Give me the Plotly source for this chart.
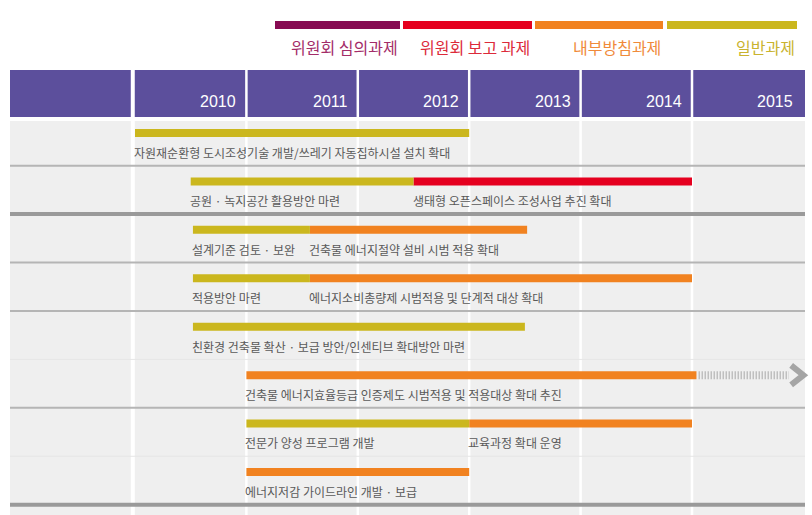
import plotly.graph_objects as go

W, H = 812, 515

years = [2010, 2011, 2012, 2013, 2014, 2015]
categories = ["위원회 심의과제", "위원회 보고 과제", "내부방침과제", "일반과제"]
cat_colors = ["#870A52", "#E5001F", "#F18220", "#CBB71E"]
cat_text_colors = ["#A32C68", "#DC2A3A", "#F08A3A", "#C9B32E"]

# task segments: row, start year, end year, category index, label
task_rows = [0, 1, 1, 2, 2, 3, 3, 4, 5, 6, 6, 7]
task_start = [2010.0, 2010.5, 2012.5, 2010.52, 2011.57, 2010.52, 2011.57, 2010.52, 2011.0, 2011.0, 2013.0, 2011.0]
task_end = [2013.0, 2012.5, 2015.0, 2011.57, 2013.52, 2011.57, 2015.0, 2013.5, 2015.04, 2013.0, 2015.0, 2013.0]
task_cat = [3, 3, 1, 3, 2, 3, 2, 3, 2, 3, 2, 2]
task_labels = [
    "자원재순환형 도시조성기술 개발/쓰레기 자동집하시설 설치 확대",
    "공원 · 녹지공간 활용방안 마련",
    "생태형 오픈스페이스 조성사업 추진 확대",
    "설계기준 검토 · 보완",
    "건축물 에너지절약 설비 시범 적용 확대",
    "적용방안 마련",
    "에너지소비총량제 시범적용 및 단계적 대상 확대",
    "친환경 건축물 확산 · 보급 방안/인센티브 확대방안 마련",
    "건축물 에너지효율등급 인증제도 시범적용 및 적용대상 확대 추진",
    "전문가 양성 프로그램 개발",
    "교육과정 확대 운영",
    "에너지저감 가이드라인 개발 · 보급",
]

# continuation arrow (row 5)
ext_row = 5
ext_start = 2015.04
ext_end = 2015.87
ext_tip = 2016.0

# separator lines after each row: "thin", "thick", "faint"
sep_types = ["thin", "thick", "thin", "thin", "faint", "thin", "faint", "thick"]

# ---- geometry (pixel mapping) ----
x0_px, year_px = 135.0, 111.4
row0_px, row_px = 133.0, 48.43
x_range = [2010 - x0_px / year_px, 2010 + (W - x0_px) / year_px]
y_range = [(H - row0_px) / row_px, -row0_px / row_px]


def px(xp):
    return xp / W


def py(yp):
    return 1 - yp / H


fig = go.Figure()

# bars by category
for ci, cname in enumerate(categories):
    idx = [i for i, c in enumerate(task_cat) if c == ci]
    if not idx:
        continue
    fig.add_trace(go.Bar(
        orientation="h",
        y=[task_rows[i] for i in idx],
        base=[task_start[i] for i in idx],
        x=[task_end[i] - task_start[i] for i in idx],
        width=0.165,
        marker=dict(color=cat_colors[ci], line=dict(width=0)),
        name=cname,
        hoverinfo="skip",
        showlegend=False,
    ))

# striped continuation
fig.add_trace(go.Scatter(
    x=[ext_start + 0.02, ext_end], y=[ext_row, ext_row], mode="lines",
    line=dict(color="#A9A9A9", width=8, dash="1px,2px"),
    hoverinfo="skip", showlegend=False,
))
# chevron
fig.add_trace(go.Scatter(
    x=[ext_end + 0.02, ext_tip, ext_end + 0.02],
    y=[ext_row - 0.2, ext_row, ext_row + 0.2],
    mode="lines", line=dict(color="#A5A5A5", width=6),
    hoverinfo="skip", showlegend=False,
))

shapes = []
# body background
shapes.append(dict(type="rect", xref="paper", yref="paper", layer="below",
                   x0=px(10), x1=px(805), y0=0, y1=py(121),
                   fillcolor="#EFEFEF", line=dict(width=0)))
# header band
shapes.append(dict(type="rect", xref="paper", yref="paper", layer="below",
                   x0=px(10), x1=px(805), y0=py(117), y1=py(70),
                   fillcolor="#5C4F9C", line=dict(width=0)))
# vertical white separators
shapes.append(dict(type="line", xref="x", yref="paper", layer="below",
                   x0=years[0] - 0.02, x1=years[0] - 0.02, y0=0, y1=py(70),
                   line=dict(color="white", width=4)))
for yv in years[1:]:
    shapes.append(dict(type="line", xref="x", yref="paper", layer="below",
                       x0=yv, x1=yv, y0=0, y1=py(70),
                       line=dict(color="white", width=2.5)))
# horizontal separators
for r, t in enumerate(sep_types):
    yv = r + 0.675
    if t == "thick":
        ln = dict(color="#9A9A9A", width=4)
    elif t == "thin":
        ln = dict(color="#B5B5B5", width=2)
    else:
        ln = dict(color="#E6E6E6", width=1)
    shapes.append(dict(type="line", xref="paper", yref="y", layer="below",
                       x0=px(10), x1=px(805), y0=yv, y1=yv, line=ln))

# legend bars (top)
leg_x = [(275, 400), (403, 532), (535, 663), (667, 797)]
for ci in range(len(categories)):
    a, b = leg_x[ci]
    shapes.append(dict(type="rect", xref="paper", yref="paper",
                       x0=px(a), x1=px(b), y0=py(29), y1=py(21),
                       fillcolor=cat_colors[ci], line=dict(width=0)))

annotations = []
for ci, cname in enumerate(categories):
    annotations.append(dict(
        text=cname, xref="paper", yref="paper", x=px(leg_x[ci][1]), y=py(47),
        xanchor="right", yanchor="middle", showarrow=False,
        font=dict(family="Noto Sans CJK KR", size=16, color=cat_text_colors[ci]),
    ))

# year labels
for yv in years:
    annotations.append(dict(
        text=str(yv), xref="x", yref="paper", x=yv + 1, y=py(101),
        xanchor="right", yanchor="middle", xshift=-8, showarrow=False,
        font=dict(family="Liberation Sans", size=16, color="white"),
    ))

# task labels
for i, lab in enumerate(task_labels):
    annotations.append(dict(
        text=lab, xref="x", yref="y", x=task_start[i], y=task_rows[i] + 0.4,
        xanchor="left", yanchor="middle", xshift=-3, showarrow=False,
        font=dict(family="Noto Sans CJK KR", size=12, color="#595959"),
    ))

fig.update_layout(
    width=W, height=H,
    margin=dict(l=0, r=0, t=0, b=0),
    paper_bgcolor="white", plot_bgcolor="rgba(0,0,0,0)",
    barmode="overlay",
    xaxis=dict(range=x_range, visible=False, fixedrange=True),
    yaxis=dict(range=y_range, visible=False, fixedrange=True),
    shapes=shapes, annotations=annotations,
    showlegend=False,
)

fig.write_html(
    "out.html",
    config={"displayModeBar": False},
    post_script="document.body.style.margin='0';document.body.style.overflow='hidden';",
)
